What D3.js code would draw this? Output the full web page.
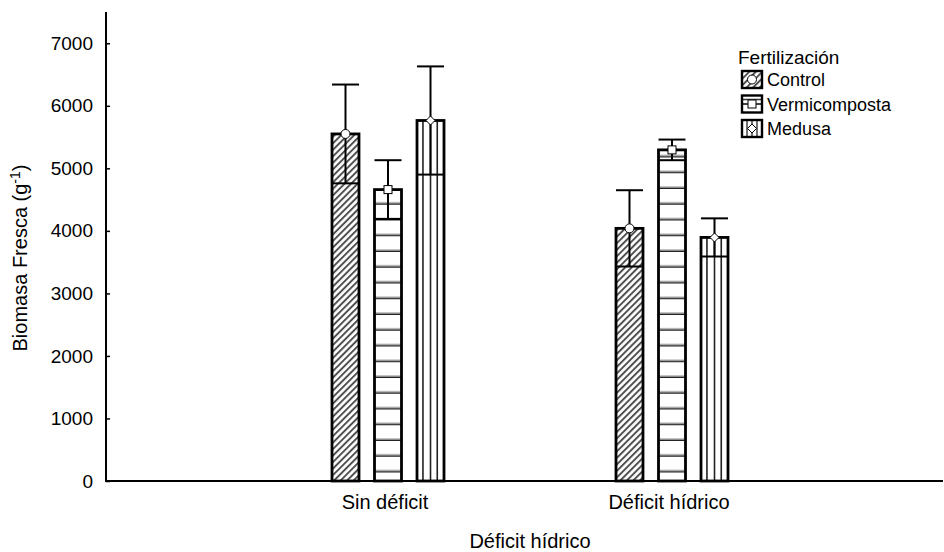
<!DOCTYPE html>
<html><head><meta charset="utf-8">
<script src="https://cdn.jsdelivr.net/npm/d3@7"></script>
<style>
body{margin:0;background:#fff;}
text{font-family:"Liberation Sans",Arial,sans-serif;fill:#000;}
</style></head>
<body><svg id="c" width="944" height="552"></svg>
<script>
const groups = ["Sin déficit", "Déficit hídrico"];
const series = ["Control", "Vermicomposta", "Medusa"];
const controlMean = [5550, 4040];
const controlErr = [790, 610];
const vermiMean = [4660, 5295];
const vermiErr = [470, 165];
const medusaMean = [5765, 3895];
const medusaErr = [865, 305];
const yTicks = [0, 1000, 2000, 3000, 4000, 5000, 6000, 7000];

const means = [controlMean, vermiMean, medusaMean];
const errs = [controlErr, vermiErr, medusaErr];
const data = [];
groups.forEach((g, gi) => series.forEach((s, si) => data.push({g, gi, s, si, m: means[si][gi], e: errs[si][gi]})));

const svg = d3.select("#c");
const FS = 20;
const y = d3.scaleLinear().domain([0, 7500]).range([481, 12]);
const xg = d3.scaleLinear().domain([0, 3]).range([104, 956]);
const xs = d3.scaleBand().domain(series).range([-56, 56]).paddingInner(0.365).paddingOuter(0);
const bw = xs.bandwidth();

const defs = svg.append("defs");
const hatch = defs.append("pattern").attr("id", "hatch").attr("patternUnits", "userSpaceOnUse")
  .attr("width", 4.6).attr("height", 4.6).attr("patternTransform", "rotate(45)");
hatch.append("rect").attr("width", 4.6).attr("height", 4.6).attr("fill", "#fff");
hatch.append("line").attr("x1", 1).attr("y1", 0).attr("x2", 1).attr("y2", 4.6).attr("stroke", "#4a4a4a").attr("stroke-width", 1.9);
const hor = defs.append("pattern").attr("id", "hor").attr("patternUnits", "userSpaceOnUse")
  .attr("width", 10).attr("height", 15.75).attr("y", 472.5 - 15.75);
hor.append("rect").attr("width", 10).attr("height", 15.75).attr("fill", "#fff");
hor.append("rect").attr("y", 14.2).attr("width", 10).attr("height", 2.4).attr("fill", "#222");
hor.append("rect").attr("y", 13.2).attr("width", 10).attr("height", 1).attr("fill", "#999");

// axes
svg.append("line").attr("x1", 106).attr("x2", 106).attr("y1", y(7500)).attr("y2", y(0)).attr("stroke", "#000").attr("stroke-width", 2);
svg.append("line").attr("x1", 105).attr("x2", 943).attr("y1", y(0)).attr("y2", y(0)).attr("stroke", "#000").attr("stroke-width", 2);
const ya = svg.append("g").attr("transform", "translate(106,0)")
  .call(d3.axisLeft(y).tickValues(yTicks).tickSizeInner(-4).tickSizeOuter(0).tickPadding(13).tickFormat(d3.format("d")));
ya.select(".domain").remove();
ya.selectAll(".tick line").attr("stroke", "#000").attr("stroke-width", 1.5);
ya.selectAll("text").style("font-size", "19px").attr("font-family", "Liberation Sans, Arial");

groups.forEach((g, gi) => {
  svg.append("text").attr("x", xg(gi + 1) - 3).attr("y", 509).attr("text-anchor", "middle").style("font-size", FS + "px").text(g);
});
svg.append("text").attr("x", 530).attr("y", 548).attr("text-anchor", "middle").style("font-size", FS + "px").text("Déficit hídrico");
const yl = svg.append("text").attr("transform", "translate(27,258) rotate(-90)").attr("text-anchor", "middle").style("font-size", FS + "px");
yl.append("tspan").text("Biomasa Fresca (g");
yl.append("tspan").attr("dy", -7).style("font-size", (FS - 6) + "px").text("-1");
yl.append("tspan").attr("dy", 7).text(")");

// bars
const bars = svg.append("g");
data.forEach(d => {
  const x0 = xg(d.gi + 1) + xs(d.s);
  const top = y(d.m), bot = y(0);
  const gb = bars.append("g");
  const fill = d.si === 0 ? "url(#hatch)" : d.si === 1 ? "url(#hor)" : "#fff";
  gb.append("rect").attr("x", x0).attr("y", top).attr("width", bw).attr("height", bot - top).attr("fill", fill);
  if (d.si === 2) {
    [0.22, 0.5, 0.75].forEach(f => gb.append("line").attr("x1", x0 + bw * f).attr("x2", x0 + bw * f)
      .attr("y1", top).attr("y2", bot).attr("stroke", "#222").attr("stroke-width", 1.6));
  }
  gb.append("rect").attr("x", x0).attr("y", top).attr("width", bw).attr("height", bot - top)
    .attr("fill", "none").attr("stroke", "#000").attr("stroke-width", 2.8);
  const cx = x0 + bw / 2;
  gb.append("line").attr("x1", cx).attr("x2", cx).attr("y1", y(d.m + d.e)).attr("y2", y(d.m - d.e)).attr("stroke", "#000").attr("stroke-width", 2);
  [d.m + d.e, d.m - d.e].forEach(v => gb.append("line").attr("x1", x0).attr("x2", x0 + bw).attr("y1", y(v)).attr("y2", y(v)).attr("stroke", "#000").attr("stroke-width", 2));
  drawMarker(gb, d.si, cx, y(d.m));
});

function drawMarker(g, si, cx, cy) {
  if (si === 0) g.append("circle").attr("cx", cx).attr("cy", cy).attr("r", 4.5).attr("fill", "#fff").attr("stroke", "#000").attr("stroke-width", 1);
  else if (si === 1) g.append("rect").attr("x", cx - 4).attr("y", cy - 4).attr("width", 8).attr("height", 8).attr("fill", "#fff").attr("stroke", "#000").attr("stroke-width", 1);
  else g.append("path").attr("d", `M${cx},${cy - 4.5}L${cx + 4.5},${cy}L${cx},${cy + 4.5}L${cx - 4.5},${cy}Z`).attr("fill", "#fff").attr("stroke", "#000").attr("stroke-width", 1);
}

// legend
const lg = svg.append("g");
lg.append("text").attr("x", 738).attr("y", 64).style("font-size", "19px").text("Fertilización");
series.forEach((s, si) => {
  const yy = 71 + si * 24.5;
  const sx = 742, sw = 20, sh = 17;
  const g = lg.append("g");
  g.append("rect").attr("x", sx).attr("y", yy).attr("width", sw).attr("height", sh).attr("fill", si === 0 ? "url(#hatch)" : "#fff");
  if (si === 1) {
    g.append("line").attr("x1", sx).attr("x2", sx + sw).attr("y1", yy + 4).attr("y2", yy + 4).attr("stroke", "#333").attr("stroke-width", 1.5);
    g.append("line").attr("x1", sx).attr("x2", sx + sw).attr("y1", yy + sh / 2).attr("y2", yy + sh / 2).attr("stroke", "#000").attr("stroke-width", 1.5);
  }
  if (si === 2) {
    [0.25, 0.5, 0.75].forEach(f => g.append("line").attr("x1", sx + sw * f).attr("x2", sx + sw * f).attr("y1", yy).attr("y2", yy + sh).attr("stroke", "#222").attr("stroke-width", 1.3));
  }
  g.append("rect").attr("x", sx).attr("y", yy).attr("width", sw).attr("height", sh).attr("fill", "none").attr("stroke", "#000").attr("stroke-width", 2.4);
  drawMarker(g, si, sx + sw / 2, yy + sh / 2);
  g.append("text").attr("x", 767).attr("y", yy + sh / 2 + 6.5).style("font-size", "18px").text(s);
});
</script></body></html>
